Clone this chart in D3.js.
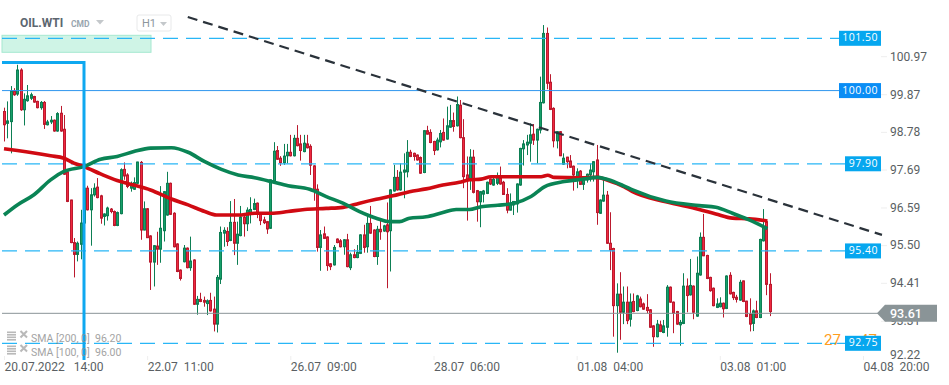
<!DOCTYPE html>
<html>
<head>
<meta charset="utf-8">
<style>
    html, body { margin: 0; padding: 0; background: #fff; }
    svg { display: block; font-family: Roboto, sans-serif; }
    .tick-label { white-space: pre; }
</style>
<script src="https://cdn.jsdelivr.net/npm/d3@7"></script>
</head>
<body>
<div id="chart"></div>
<script>

// candles, one hour each
var opens = [
    99.40,99.06,99.11,99.99,99.90,100.59,99.45,99.71,99.78,99.83,
    99.69,99.51,99.66,99.02,99.10,99.15,98.84,99.35,98.89,97.67,
    96.86,95.64,95.30,95.59,96.20,97.20,96.58,97.01,97.23,96.98,
    96.39,96.41,96.60,96.53,96.13,96.47,97.74,97.58,97.20,97.17,
    97.34,97.94,96.00,96.61,95.83,95.08,95.54,95.45,95.98,96.43,
    97.34,96.48,95.60,94.85,95.09,95.48,94.92,95.14,93.87,94.01,
    93.98,93.89,93.98,93.73,93.30,94.59,95.91,95.96,95.70,96.22,
    95.62,95.84,96.37,96.18,96.49,96.59,96.77,96.45,96.29,96.24,
    96.05,97.41,98.28,98.06,97.93,98.13,98.23,98.13,98.63,98.47,
    98.25,98.47,98.40,97.84,97.17,95.50,95.89,95.80,95.03,95.00,
    95.74,95.69,95.52,95.72,94.92,95.29,95.21,95.33,95.86,95.52,
    96.19,96.00,95.24,96.02,95.97,96.15,95.98,97.12,97.51,97.15,
    97.66,97.67,98.23,98.20,98.15,98.08,97.65,98.85,98.80,98.54,
    98.30,98.53,98.80,98.61,98.95,99.14,98.99,99.58,98.65,97.58,
    97.44,98.09,97.13,96.81,97.03,97.05,97.46,97.29,97.34,97.50,
    97.37,97.02,96.57,96.72,96.75,97.29,98.33,98.44,98.49,98.75,
    98.58,98.87,99.65,101.64,100.24,99.49,98.56,98.82,97.89,98.09,
    97.98,97.83,97.53,97.69,97.31,97.44,97.58,97.67,98.01,96.48,
    96.83,97.00,95.62,95.47,93.83,94.16,93.64,93.93,93.44,93.95,
    93.69,94.02,93.88,93.78,93.71,93.25,92.94,93.28,93.06,93.21,
    94.36,93.93,93.66,93.28,93.32,94.39,94.14,94.39,93.53,94.71,
    95.79,95.27,94.64,94.33,93.78,93.80,93.90,93.75,94.70,94.21,
    94.07,93.99,94.54,93.96,93.58,93.32,93.68,93.49,95.69,96.24,94.44
];

var closes = [
    99.02,99.13,99.99,99.88,100.59,99.45,99.75,99.85,99.88,99.67,
    99.51,99.66,99.03,99.10,99.15,98.84,99.34,98.84,97.60,96.82,
    95.64,95.30,95.62,96.20,97.20,96.58,97.01,97.20,96.93,96.34,
    96.46,96.63,96.53,96.13,96.50,97.73,97.55,97.25,97.34,97.36,
    97.95,96.00,96.61,95.78,95.08,95.55,95.45,96.05,97.10,97.34,
    96.45,95.52,94.81,94.61,95.48,94.92,95.11,93.87,94.01,93.95,
    93.93,93.97,93.68,93.30,94.64,95.93,95.99,95.67,96.22,95.62,
    95.88,96.37,96.18,96.57,96.59,96.76,96.45,96.27,96.21,96.03,
    97.44,98.26,98.03,97.93,98.12,98.23,98.13,98.63,98.42,98.28,
    98.49,98.36,97.86,97.15,95.50,95.86,95.76,94.98,94.95,95.50,
    95.64,95.52,95.72,94.95,95.29,95.21,95.36,95.86,95.50,96.19,
    95.91,95.24,96.02,95.95,96.12,95.95,97.15,97.51,97.15,97.66,
    97.72,98.23,98.11,98.11,98.01,97.63,98.85,98.75,98.51,98.28,
    98.58,98.77,98.58,98.99,99.14,98.97,99.60,98.65,97.53,97.44,
    98.09,97.08,96.81,97.10,97.12,97.37,97.32,97.45,97.53,97.32,
    97.02,96.57,96.75,96.82,97.32,98.34,98.47,98.52,98.73,98.58,
    98.89,99.66,101.64,100.21,99.46,98.56,98.82,98.13,98.06,97.96,
    97.80,97.58,97.67,97.31,97.45,97.60,97.72,97.96,96.50,96.86,
    97.00,95.62,95.43,93.83,94.16,93.64,93.93,93.40,93.93,93.66,
    94.11,93.80,93.73,93.69,93.21,92.94,93.30,93.09,93.25,94.36,
    93.93,93.61,93.30,93.35,94.39,94.12,94.41,93.64,94.76,95.79,
    95.26,94.61,94.26,93.83,93.88,93.90,93.74,94.68,94.17,94.06,
    94.01,94.50,93.95,93.52,93.30,93.68,93.49,95.73,96.10,94.44,93.66
];

var highs = [
    99.51,99.69,100.13,100.07,100.74,100.64,99.92,100.16,99.94,99.85,
    99.71,99.70,99.70,99.16,99.27,99.17,99.38,99.56,99.30,97.70,
    96.87,95.77,95.67,96.58,97.25,97.27,97.20,97.34,97.49,97.01,
    96.48,96.67,96.63,96.56,96.53,97.77,97.94,97.63,97.39,97.51,
    97.96,97.98,96.82,96.63,95.85,95.57,95.95,97.26,97.12,97.67,
    97.36,96.51,95.62,94.87,95.57,95.50,95.81,95.16,94.11,94.20,
    94.09,94.01,94.20,94.09,94.71,96.10,96.08,96.08,96.83,96.89,
    96.24,96.69,96.46,96.65,96.94,96.90,96.79,96.47,96.38,96.26,
    97.45,98.52,98.41,98.12,98.47,98.47,98.73,98.73,99.01,98.73,
    98.73,98.73,98.46,97.86,97.31,96.00,96.10,95.82,95.05,95.57,
    95.76,95.74,95.74,95.89,95.35,95.45,95.57,95.88,96.15,96.40,
    96.69,96.02,96.12,96.29,96.15,96.79,97.17,97.87,97.72,97.91,
    98.20,98.58,98.30,98.22,98.17,98.11,98.87,98.99,98.89,98.56,
    98.65,98.87,99.20,99.54,99.59,99.37,99.83,99.73,99.18,98.11,
    98.32,98.30,97.15,97.12,97.15,97.39,97.48,97.50,97.65,97.82,
    97.41,97.20,97.05,96.83,97.34,98.36,98.58,98.73,99.06,99.04,
    98.91,100.40,101.88,101.81,100.47,99.52,98.84,98.84,98.20,98.10,
    98.15,97.85,97.77,97.72,97.53,97.62,97.91,97.98,98.44,96.88,
    97.43,97.12,96.51,95.49,94.47,94.79,94.38,94.38,94.18,94.18,
    94.14,94.09,93.92,94.16,93.73,93.27,93.42,93.40,93.42,94.42,
    94.38,93.95,93.68,93.42,94.76,94.61,95.17,94.41,95.24,95.93,
    96.46,95.29,94.66,94.35,94.04,94.07,93.92,94.70,94.79,94.23,
    94.14,94.57,94.55,93.97,94.04,93.72,93.97,95.75,96.60,96.26,94.76
];

var lows = [
    98.54,98.63,98.20,99.85,99.85,99.42,99.00,99.68,99.73,99.65,
    99.49,99.45,98.90,99.00,99.04,98.82,98.82,98.82,97.58,96.80,
    95.62,94.64,95.10,95.16,96.15,96.56,95.55,96.96,96.91,96.18,
    96.13,96.27,96.48,96.11,96.11,96.45,97.44,97.20,97.10,97.15,
    97.32,95.72,95.99,95.77,94.28,94.38,95.00,95.06,95.67,96.41,
    96.43,95.50,94.79,94.55,95.07,94.90,94.83,93.85,93.57,93.93,
    93.80,93.56,93.66,93.09,93.06,94.45,95.52,95.54,95.68,95.28,
    95.00,95.82,95.81,95.97,96.19,96.57,96.34,96.14,96.17,95.89,
    96.03,97.39,98.01,97.84,97.87,97.91,98.11,98.11,98.40,97.99,
    98.23,98.34,97.58,96.84,95.38,94.83,95.74,94.83,94.85,94.98,
    95.62,95.50,95.29,94.93,94.85,95.19,95.19,95.31,95.35,95.35,
    95.89,95.22,95.00,95.72,95.95,94.33,94.81,97.10,97.13,97.13,
    96.91,97.51,98.09,97.99,97.99,97.61,97.63,98.74,98.49,98.15,
    98.28,98.37,98.56,98.59,98.93,98.82,98.97,98.63,97.20,96.27,
    97.15,97.05,96.24,96.08,96.79,97.03,97.29,97.27,97.29,97.30,
    97.01,96.48,96.56,96.43,96.50,97.27,97.85,98.15,97.96,98.44,
    97.91,98.77,99.63,100.04,99.44,98.37,98.34,98.12,97.87,97.77,
    97.78,97.13,97.20,97.29,97.15,97.36,97.39,97.39,96.15,96.46,
    96.81,95.60,94.85,92.94,92.48,92.85,93.30,93.30,93.23,93.64,
    93.67,93.78,93.71,93.61,93.19,92.65,92.92,93.07,93.04,92.94,
    93.91,93.04,93.28,92.68,93.30,93.64,94.12,93.44,93.51,94.69,
    95.25,94.59,94.23,93.81,93.76,93.78,93.49,93.73,94.15,93.99,
    93.92,93.97,93.93,93.50,93.09,93.10,93.47,93.47,95.67,94.13,93.53
];

// moving averages, sampled along the candle index
var sma200Index = [0,4,9,14,18,21,24,29,34,39,44,50.3,55.3,60.3,63.8,70.3,75.3,80.3,85.3,90.3,96.8,101.8,106.8,111.8,116.8,121.8,126.8,131.8,136.8,139.8,143.3,146.3,153.3,161.3,163.3,165.3,173.3,178.3,181.3,186.3,188.8,198.8,208.8,213.8,218.8,223.8,229.3];
var sma200 = [98.33,98.28,98.21,98.13,98.06,97.92,97.82,97.61,97.42,97.29,97.15,96.89,96.72,96.53,96.43,96.43,96.48,96.48,96.53,96.59,96.62,96.65,96.77,96.88,96.98,97.10,97.18,97.29,97.37,97.44,97.46,97.53,97.53,97.53,97.57,97.51,97.50,97.51,97.43,97.24,97.10,96.81,96.59,96.46,96.34,96.32,96.26];

var sma100Index = [0,4,9,14,18,24,29,34,39,44,50.3,55.3,60.3,65.3,70.3,75.3,80.3,85.3,91.8,96.8,101.8,106.8,111.8,115.8,118.8,121.8,126.8,131.8,135.8,139.8,143.3,148.3,153.3,158.3,162.3,168.3,173.3,178.3,181.3,186.3,188.8,198.8,208.8,213.8,218.8,223.8,229.3];
var sma100 = [96.43,96.72,97.01,97.44,97.68,97.82,98.03,98.11,98.25,98.35,98.36,98.23,97.96,97.74,97.58,97.50,97.39,97.27,97.17,96.96,96.77,96.53,96.34,96.24,96.24,96.34,96.38,96.50,96.59,96.59,96.67,96.71,96.77,96.96,97.24,97.39,97.45,97.51,97.45,97.26,97.15,96.83,96.70,96.65,96.48,96.29,96.04];

var legendNames = [ 'SMA [200, 0]', 'SMA [100, 0]' ];
var legendValues = [ '96.20', '96.00' ];

// price levels on the right hand side
var levelValues = [ 101.50, 100.00, 97.90, 95.40, 92.75 ];
var levelLabels = [ '101.50', '100.00', '97.90', '95.40', '92.75' ];
var levelStyles = [ 'dashed', 'solid', 'dashed', 'dashed', 'dashed' ];

var lastPrice = 93.61;

var trendIndex = [ 55.2, 263.7 ];
var trendPrices = [ 102.11, 95.86 ];

var priceTicks = [ 100.97, 99.87, 98.78, 97.69, 96.59, 95.50, 94.41, 93.31, 92.22 ];

var timeTickIndex = [ 0, 43, 86, 129, 172, 215, 258 ];
var timeTickLabels = [ '20.07.2022   14:00', '22.07  11:00', '26.07  09:00', '28.07  06:00', '01.08  04:00', '03.08  01:00', '04.08  20:00' ];

var width = 949,
    height = 385;

var plotLeft = 2,
    plotRight = 881,
    axisBottom = 356;

var x = d3.scaleLinear().domain( [ 0, 258 ] ).range( [ 4, 863 ] );
var y = d3.scaleLinear().domain( [ 101.50, 92.75 ] ).range( [ 38.3, 343.3 ] );

// the axis labels do not sit quite on the price scale of the levels
var yAxisScale = d3.scaleLinear().domain( [ 100.97, 94.41 ] ).range( [ 56.7, 283.3 ] );

var svg = d3.select('#chart').append('svg')
    .attr('width', width)
    .attr('height', height);

// target zone behind everything

svg.append('rect')
    .attr('x', plotLeft)
    .attr('y', y( 101.50 ) - 3)
    .attr('width', 149)
    .attr('height', 17)
    .style('fill', '#cff4e6')
    .style('stroke', '#a6e8d0');

// axes

var yAxis = svg.append('g')
    .attr('transform', 'translate(' + plotRight + ',0)')
    .call( d3.axisRight( yAxisScale ).tickValues( priceTicks ).tickSize( 6 ).tickPadding( 3 ).tickFormat( d3.format('.2f') ) );

yAxis.select('.domain').remove();
yAxis.selectAll('.tick')
    .attr('transform', function ( d ) { return 'translate(0,' + Math.min( yAxisScale( d ), 355 ) + ')' });
yAxis.selectAll('.tick line').style('stroke', '#eeeeee');
yAxis.selectAll('.tick').filter( function ( d ) { return d === 92.22 } ).select('line').remove();
yAxis.selectAll('.tick text')
    .style('font-family', 'Roboto')
    .style('font-size', '12px')
    .style('fill', '#5a5f63');

var xAxis = svg.append('g')
    .attr('transform', 'translate(0,' + axisBottom + ')')
    .call( d3.axisBottom( x ).tickValues( timeTickIndex ).tickSize( 4 ).tickPadding( 2 )
        .tickFormat( function ( d, i ) { return timeTickLabels[ i ] } ) );

xAxis.select('.domain').remove();
xAxis.selectAll('.tick line').style('stroke', '#eeeeee');
xAxis.selectAll('.tick text')
    .attr('class', 'tick-label')
    .attr('text-anchor', 'start')
    .attr('dy', '0.75em')
    .style('font-family', 'Roboto')
    .style('font-size', '12px')
    .style('fill', '#5a5f63');

// candles

var candles = svg.append('g').selectAll('g')
    .data( opens.map( function ( d, i ) { return i } ) )
    .enter().append('g')
    .attr('class', 'candle');

function isUp ( i ) {

    return closes[ i ] >= opens[ i ];

}

candles.append('line')
    .attr('x1', function ( i ) { return Math.round( x( i ) ) + 0.5 })
    .attr('x2', function ( i ) { return Math.round( x( i ) ) + 0.5 })
    .attr('y1', function ( i ) { return y( highs[ i ] ) })
    .attr('y2', function ( i ) { return y( lows[ i ] ) })
    .style('stroke', function ( i ) { return isUp( i ) ? '#0d7f54' : '#bb1a2e' });

candles.append('rect')
    .attr('x', function ( i ) { return Math.round( x( i ) ) - 0.5 })
    .attr('y', function ( i ) { return y( Math.max( opens[ i ], closes[ i ] ) ) })
    .attr('width', 2)
    .attr('height', function ( i ) { return Math.abs( y( opens[ i ] ) - y( closes[ i ] ) ) })
    .style('fill', function ( i ) { return isUp( i ) ? '#17a06a' : '#f0283f' })
    .style('stroke', function ( i ) { return isUp( i ) ? '#0d7f54' : '#bb1a2e' })
    .style('stroke-width', 1);

// level lines

svg.append('g').selectAll('line')
    .data( levelValues )
    .enter().append('line')
    .attr('x1', plotLeft)
    .attr('x2', function ( d, i ) { return plotRight - ( levelLabels[ i ].length === 6 ? 42 : 36 ) })
    .attr('y1', function ( d ) { return y( d ) })
    .attr('y2', function ( d ) { return y( d ) })
    .style('stroke', function ( d, i ) { return levelStyles[ i ] === 'solid' ? '#2f96ee' : '#29b6f6' })
    .style('stroke-width', function ( d, i ) { return levelStyles[ i ] === 'solid' ? 1 : 1.2 })
    .style('stroke-dasharray', function ( d, i ) { return levelStyles[ i ] === 'solid' ? null : '15 8' });

svg.append('line')
    .attr('x1', plotLeft)
    .attr('x2', plotRight)
    .attr('y1', y( lastPrice ))
    .attr('y2', y( lastPrice ))
    .style('stroke', '#8a9497')
    .style('stroke-width', 1);

// moving averages

var smaLine = d3.line()
    .x( function ( d ) { return x( d[ 0 ] ) })
    .y( function ( d ) { return y( d[ 1 ] ) })
    .curve( d3.curveMonotoneX );

svg.append('path')
    .datum( d3.zip( sma200Index, sma200 ) )
    .attr('d', smaLine)
    .style('fill', 'none')
    .style('stroke', '#d00a12')
    .style('stroke-width', 3.6);

svg.append('path')
    .datum( d3.zip( sma100Index, sma100 ) )
    .attr('d', smaLine)
    .style('fill', 'none')
    .style('stroke', '#0a8455')
    .style('stroke-width', 3.6);

// trend line

svg.append('line')
    .attr('x1', x( trendIndex[ 0 ] ))
    .attr('x2', x( trendIndex[ 1 ] ))
    .attr('y1', y( trendPrices[ 0 ] ))
    .attr('y2', y( trendPrices[ 1 ] ))
    .style('stroke', '#2a323a')
    .style('stroke-width', 2.2)
    .style('stroke-dasharray', '10 6');

// blue time box

svg.append('path')
    .attr('d', 'M' + plotLeft + ',62.5H84V360')
    .style('fill', 'none')
    .style('stroke', '#0ea8f0')
    .style('stroke-width', 3);

// countdown hidden behind the last level label

var countdown = svg.append('text')
    .attr('x', 824)
    .attr('y', y( 92.75 ) + 2)
    .style('font-size', '15px')
    .style('fill', '#ff9d1e');

countdown.append('tspan').text('27');
countdown.append('tspan').attr('dx', 5).style('fill', '#b9bdbf').text('m');
countdown.append('tspan').attr('dx', 1).text('47');

// level labels

var labels = svg.append('g').selectAll('g')
    .data( levelValues )
    .enter().append('g');

labels.append('rect')
    .attr('x', function ( d, i ) { return plotRight - ( levelLabels[ i ].length === 6 ? 42 : 36 ) })
    .attr('y', function ( d ) { return y( d ) - 7.5 })
    .attr('width', function ( d, i ) { return levelLabels[ i ].length === 6 ? 42 : 36 })
    .attr('height', 15)
    .style('fill', function ( d, i ) { return levelStyles[ i ] === 'solid' ? '#0a8df5' : '#06a7ef' });

labels.append('text')
    .attr('x', plotRight - 3)
    .attr('y', function ( d ) { return y( d ) + 3 })
    .attr('text-anchor', 'end')
    .style('font-family', 'Open Sans')
    .style('font-size', '10.5px')
    .style('letter-spacing', '0.5px')
    .style('fill', '#ffffff')
    .text( function ( d, i ) { return levelLabels[ i ] });

// last price tag

var tagY = y( lastPrice );

svg.append('path')
    .attr('d', 'M877,' + tagY + 'L885,' + ( tagY - 8.5 ) + 'H937V' + ( tagY + 8.5 ) + 'H885Z')
    .style('fill', '#8a9497');

svg.append('text')
    .attr('x', 890)
    .attr('y', tagY + 4.5)
    .style('font-size', '12.5px')
    .style('font-weight', 500)
    .style('fill', '#ffffff')
    .text( d3.format('.2f')( lastPrice ) );

// indicator legend

var legend = svg.append('g').selectAll('g')
    .data( legendNames )
    .enter().append('g')
    .attr('transform', function ( d, i ) { return 'translate(0,' + ( 338 + i * 14 ) + ')' })
    .style('opacity', 0.8);

legend.append('text')
    .attr('x', 31)
    .attr('y', 3.5)
    .style('font-size', '10.5px')
    .style('fill', '#8d8d8d')
    .text( function ( d, i ) { return d + '  ' + legendValues[ i ] })
    .style('white-space', 'pre');

[ -4.5, -2, 0.5, 3 ].forEach( function ( offset ) {

    legend.append('rect')
        .attr('x', 7)
        .attr('y', offset - 2)
        .attr('width', 9)
        .attr('height', 1.6)
        .style('fill', '#a8a8a8');

});

legend.append('path')
    .attr('d', 'M20.5,-7L27,-0.5M27,-7L20.5,-0.5')
    .style('stroke', '#a8a8a8')
    .style('stroke-width', 2);

// header

svg.append('text')
    .attr('x', 20)
    .attr('y', 27)
    .style('font-family', 'Roboto')
    .style('font-size', '12px')
    .style('font-weight', 'bold')
    .style('fill', '#5c6670')
    .text('OIL.WTI');

svg.append('text')
    .attr('x', 71)
    .attr('y', 27)
    .style('font-size', '8.5px')
    .style('font-weight', 'bold')
    .style('fill', '#98a5ae')
    .text('CMD');

svg.append('path')
    .attr('d', 'M96,20H104L100,24.5Z')
    .style('fill', '#c4c8cb');

svg.append('rect')
    .attr('x', 137)
    .attr('y', 15)
    .attr('width', 34)
    .attr('height', 16)
    .attr('rx', 2)
    .style('fill', '#ffffff')
    .style('stroke', '#e8e9ea');

svg.append('text')
    .attr('x', 142)
    .attr('y', 27)
    .style('font-size', '11px')
    .style('fill', '#8d969c')
    .text('H1');

svg.append('path')
    .attr('d', 'M160,22H167L163.5,26Z')
    .style('fill', '#c4c8cb');

</script>
</body>
</html>
